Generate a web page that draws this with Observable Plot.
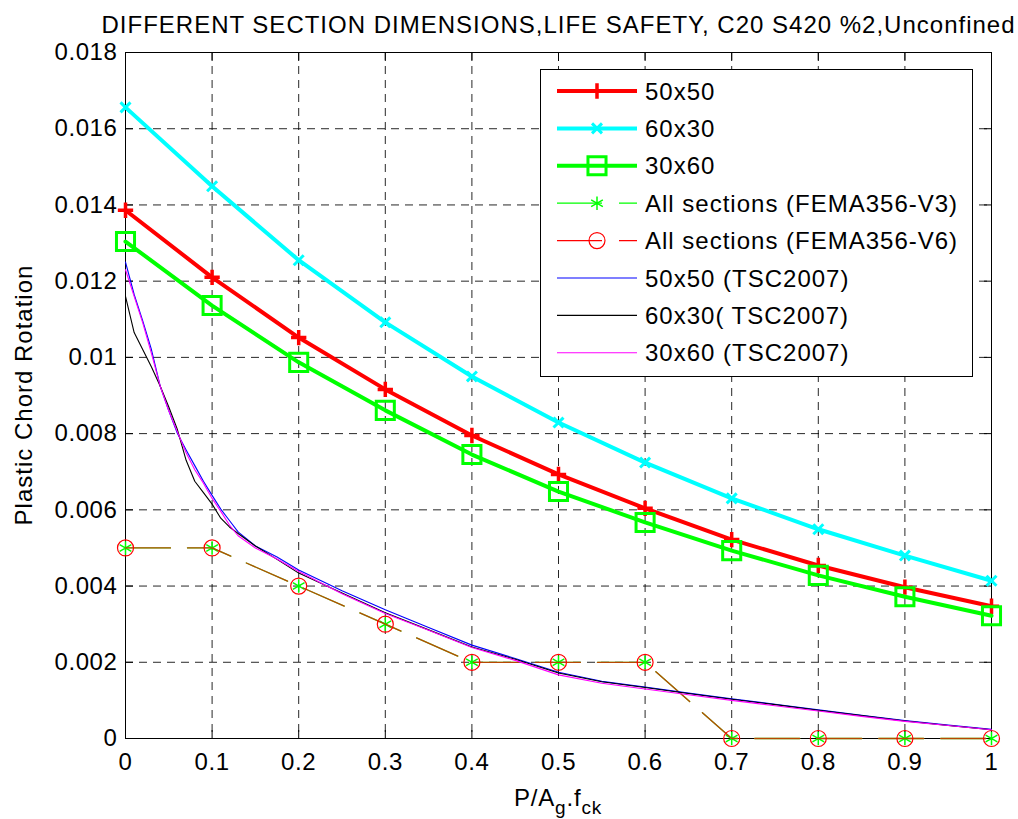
<!DOCTYPE html>
<html>
<head>
<meta charset="utf-8">
<script src="https://cdn.jsdelivr.net/npm/d3@7"></script>
<script src="https://cdn.jsdelivr.net/npm/@observablehq/plot@0.6"></script>
<style>
  html, body { margin: 0; padding: 0; background: #fff; }
  #chart { width: 1018px; height: 819px; }
</style>
</head>
<body>
<div id="chart"></div>
<script>
// ---- data ----
const titleText = "DIFFERENT SECTION DIMENSIONS,LIFE SAFETY, C20 S420 %2,Unconfined";
const xTicks = [0, 0.1, 0.2, 0.3, 0.4, 0.5, 0.6, 0.7, 0.8, 0.9, 1];
const yTicks = [0, 0.002, 0.004, 0.006, 0.008, 0.01, 0.012, 0.014, 0.016, 0.018];

const ratio = [0, 0.1, 0.2, 0.3, 0.4, 0.5, 0.6, 0.7, 0.8, 0.9, 1];
const sec50x50 = [0.01386, 0.0121, 0.01052, 0.00916, 0.00795, 0.00693, 0.00604, 0.00522, 0.00454, 0.00397, 0.00347];
const sec60x30 = [0.01656, 0.01449, 0.01255, 0.01092, 0.0095, 0.00829, 0.00724, 0.0063, 0.00549, 0.0048, 0.00414];
const sec30x60 = [0.01304, 0.01136, 0.00987, 0.00861, 0.00745, 0.00648, 0.00567, 0.00493, 0.00428, 0.00372, 0.00322];
const femaV3 = [0.005, 0.005, 0.004, 0.003, 0.002, 0.002, 0.002, 0, 0, 0, 0];
const femaV6 = [0.005, 0.005, 0.004, 0.003, 0.002, 0.002, 0.002, 0, 0, 0, 0];

const tscRatio = [0, 0.01, 0.02, 0.03, 0.04, 0.05, 0.06, 0.07, 0.08, 0.09, 0.1, 0.11, 0.12, 0.13, 0.15, 0.175, 0.2, 0.25, 0.3, 0.35, 0.4, 0.45, 0.5, 0.55, 0.6, 0.65, 0.7, 0.75, 0.8, 0.85, 0.9, 0.95, 1];
const tsc50x50 = [0.0125, 0.01165, 0.01095, 0.0102, 0.00925, 0.0086, 0.008, 0.00757, 0.00716, 0.00675, 0.00638, 0.00602, 0.00572, 0.00542, 0.00505, 0.00476, 0.00442, 0.00388, 0.00338, 0.00291, 0.00245, 0.0021, 0.00174, 0.0015, 0.00135, 0.00119, 0.00104, 0.0009, 0.00075, 0.00061, 0.00047, 0.00035, 0.00024];
const tsc60x30 = [0.0116, 0.01065, 0.0102, 0.00975, 0.00925, 0.0087, 0.0081, 0.0073, 0.00675, 0.00645, 0.00615, 0.00578, 0.00555, 0.00538, 0.00505, 0.0047, 0.00434, 0.00382, 0.0033, 0.00285, 0.0024, 0.00208, 0.00172, 0.00149, 0.00134, 0.00118, 0.00103, 0.00089, 0.00074, 0.0006, 0.00046, 0.00034, 0.00023];
const tsc30x60 = [0.0123, 0.0116, 0.0109, 0.0101, 0.00925, 0.0086, 0.00804, 0.0075, 0.00705, 0.0067, 0.0063, 0.00596, 0.0056, 0.00532, 0.005, 0.00471, 0.00438, 0.0038, 0.00328, 0.00284, 0.00239, 0.00205, 0.00167, 0.00145, 0.0013, 0.00115, 0.001, 0.00086, 0.00072, 0.00058, 0.00045, 0.00034, 0.00023];

const legendLabels = ["50x50", "60x30", "30x60", "All sections (FEMA356-V3)", "All sections (FEMA356-V6)", "50x50 (TSC2007)", "60x30( TSC2007)", "30x60 (TSC2007)"];

// ---- tables ----
const mk = (xsArr, ysArr) => xsArr.map((x, i) => ({x, y: ysArr[i]}));
const d50 = mk(ratio, sec50x50), d6030 = mk(ratio, sec60x30), d3060 = mk(ratio, sec30x60);
const dV3 = mk(ratio, femaV3), dV6 = mk(ratio, femaV6);
const t50 = mk(tscRatio, tsc50x50), t6030 = mk(tscRatio, tsc60x30), t3060 = mk(tscRatio, tsc30x60);

const FONT = "'Liberation Sans', Arial, Helvetica, sans-serif";
const fmtY = d => String(Math.round(d * 1000) / 1000);
const fmtX = d => String(Math.round(d * 10) / 10);
const gridStyle = {stroke: "#000", strokeOpacity: 0.85, strokeDasharray: "8,6", strokeWidth: 1};
const femaDash = "45,17";

const chart = Plot.plot({
  width: 1018,
  height: 819,
  marginLeft: 125,
  marginRight: 27,
  marginTop: 52,
  marginBottom: 81,
  style: {fontFamily: FONT, fontSize: "24px", background: "#fff", color: "#000", overflow: "visible", letterSpacing: "0.6px"},
  x: {domain: [0, 1], ticks: xTicks},
  y: {domain: [0, 0.018], ticks: yTicks},
  marks: [
    Plot.gridX(xTicks, gridStyle),
    Plot.gridY(yTicks, gridStyle),
    Plot.frame({stroke: "#000", strokeWidth: 1}),
    // tick labels
    Plot.axisX(xTicks, {anchor: "bottom", tickSize: 0, tickPadding: 14, tickFormat: fmtX, label: null, fontSize: 24}),
    Plot.axisY(yTicks, {anchor: "left", tickSize: 0, tickPadding: 8, tickFormat: fmtY, label: null, fontSize: 24}),
    // inward ticks on all four sides
    Plot.axisX(xTicks, {anchor: "bottom", tickSize: 8, dy: -8, text: null, label: null}),
    Plot.axisX(xTicks, {anchor: "top", tickSize: 8, dy: 8, text: null, label: null}),
    Plot.axisY(yTicks, {anchor: "left", tickSize: 8, dx: 8, text: null, label: null}),
    Plot.axisY(yTicks, {anchor: "right", tickSize: 8, dx: -8, text: null, label: null}),
    // 50x50
    Plot.line(d50, {x: "x", y: "y", stroke: "#ff0000", strokeWidth: 4}),
    Plot.dot(d50, {x: "x", y: "y", symbol: "plus", r: 5, stroke: "#ff0000", strokeWidth: 3.5, fill: "none"}),
    // 60x30
    Plot.line(d6030, {x: "x", y: "y", stroke: "#00ffff", strokeWidth: 4}),
    Plot.dot(d6030, {x: "x", y: "y", symbol: "times", r: 4.6, stroke: "#00ffff", strokeWidth: 3, fill: "none"}),
    // 30x60
    Plot.line(d3060, {x: "x", y: "y", stroke: "#00ff00", strokeWidth: 4}),
    Plot.dot(d3060, {x: "x", y: "y", symbol: "square2", r: 11.5, stroke: "#00ff00", strokeWidth: 3, fill: "none"}),
    // FEMA V3
    Plot.line(dV3, {x: "x", y: "y", stroke: "#00ff00", strokeWidth: 1.3, strokeDasharray: femaDash}),
    Plot.dot(dV3, {x: "x", y: "y", symbol: "asterisk", r: 6.4, stroke: "#00ff00", strokeWidth: 1.5, fill: "none"}),
    // FEMA V6
    Plot.line(dV6, {x: "x", y: "y", stroke: "#ff0000", strokeOpacity: 0.72, strokeWidth: 1.3, strokeDasharray: femaDash}),
    Plot.dot(dV6, {x: "x", y: "y", symbol: "circle", r: 8, stroke: "#ff0000", strokeWidth: 1.2, fill: "none"}),
    // TSC2007
    Plot.line(t50, {x: "x", y: "y", stroke: "#0000ff", strokeWidth: 1.1}),
    Plot.line(t6030, {x: "x", y: "y", stroke: "#000000", strokeWidth: 1.1}),
    Plot.line(t3060, {x: "x", y: "y", stroke: "#ff00ff", strokeWidth: 1.1}),
    // title
    Plot.text([titleText], {frameAnchor: "top", dy: -20, fontSize: 24, fill: "#000", lineAnchor: "bottom"})
  ]
});

document.getElementById("chart").appendChild(chart);

const svg = d3.select(chart);
// title spacing like the reference (MATLAB spreads glyphs a little)
svg.selectAll("text").filter(function() { return this.textContent === titleText; })
  .style("letter-spacing", "1px");

// ---- axis labels ----
svg.append("text")
  .attr("transform", "translate(32,395) rotate(-90)")
  .attr("text-anchor", "middle")
  .style("letter-spacing", "1px")
  .attr("font-family", FONT).attr("font-size", 24).attr("fill", "#000")
  .text("Plastic Chord Rotation");

const xl = svg.append("text")
  .attr("x", 558).attr("y", 806)
  .attr("text-anchor", "middle")
  .style("letter-spacing", "0.8px")
  .attr("font-family", FONT).attr("font-size", 24).attr("fill", "#000");
xl.append("tspan").text("P/A");
xl.append("tspan").attr("font-size", 19).attr("dy", 8).text("g");
xl.append("tspan").attr("dy", -8).text(".f");
xl.append("tspan").attr("font-size", 19).attr("dy", 8).text("ck");

// ---- legend ----
const lg = svg.append("g").attr("font-family", FONT).attr("font-size", 24)
  .attr("text-anchor", "start").style("letter-spacing", "1px");
lg.append("rect").attr("x", 540.5).attr("y", 69.5).attr("width", 432).attr("height", 307)
  .attr("fill", "#fff").attr("stroke", "#000").attr("stroke-width", 1);
const entries = [
  {stroke: "#ff0000", w: 4, sym: d3.symbolPlus, r: 5, sw: 3.5, dash: null},
  {stroke: "#00ffff", w: 4, sym: d3.symbolTimes, r: 4.6, sw: 3, dash: null},
  {stroke: "#00ff00", w: 4, sym: d3.symbolSquare2, r: 11.5, sw: 3, dash: null},
  {stroke: "#00ff00", w: 1.2, sym: d3.symbolAsterisk, r: 6.4, sw: 1.5, dash: "45,17"},
  {stroke: "#ff0000", w: 1.2, sym: d3.symbolCircle, r: 8, sw: 1.2, dash: "45,17"},
  {stroke: "#0000ff", w: 1.1, sym: null},
  {stroke: "#000000", w: 1.1, sym: null},
  {stroke: "#ff00ff", w: 1.1, sym: null}
];
entries.forEach((e, i) => {
  const cy = 91 + i * 37.4;
  const g = lg.append("g");
  g.append("line").attr("x1", 557).attr("x2", 637).attr("y1", cy).attr("y2", cy)
    .attr("stroke", e.stroke).attr("stroke-width", e.w)
    .attr("stroke-dasharray", e.dash);
  if (e.sym) {
    g.append("path").attr("transform", `translate(597,${cy})`)
      .attr("d", d3.symbol(e.sym, Math.PI * e.r * e.r)())
      .attr("fill", "none").attr("stroke", e.stroke).attr("stroke-width", e.sw);
  }
  g.append("text").attr("x", 645).attr("y", cy).attr("dy", "0.36em").attr("fill", "#000")
    .attr("text-anchor", "start")
    .text(legendLabels[i]);
});
</script>
</body>
</html>
